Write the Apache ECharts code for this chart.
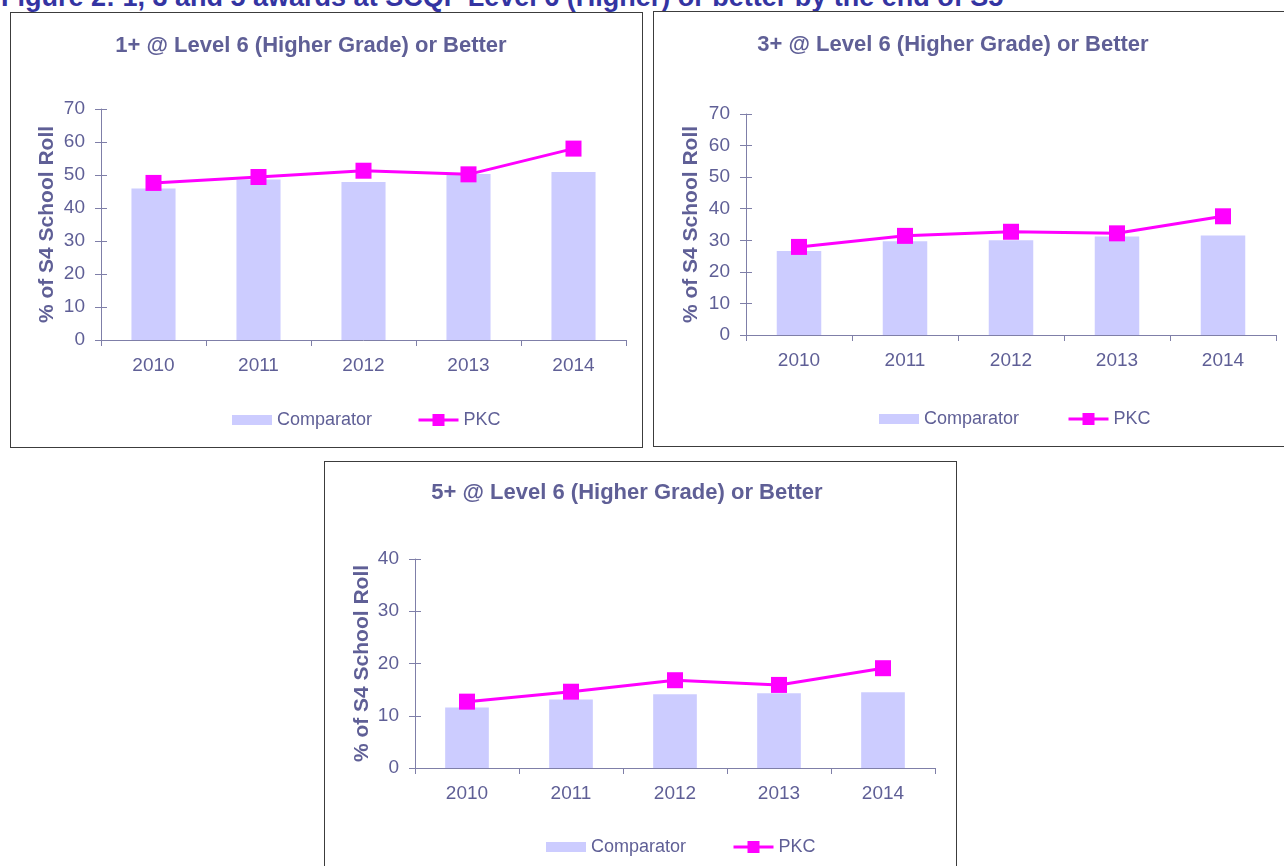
<!DOCTYPE html>
<html>
<head>
<meta charset="utf-8">
<script src="https://cdn.jsdelivr.net/npm/echarts@6/dist/echarts.min.js"></script>
<style>
  html, body { margin: 0; padding: 0; background: #fff; overflow: hidden; }
  body { width: 1284px; height: 866px; position: relative; font-family: Arial, "Liberation Sans", sans-serif; }
  #heading { position: absolute; left: 1px; top: -16px; line-height: 27px; font-weight: bold; font-size: 27px; color: #3434a2; white-space: nowrap; }
  .box { position: absolute; border: 1px solid #3c3c3c; background: #fff; }
  .box > div { position: absolute; left: 0; top: 0; width: 100%; height: 100%; }
</style>
</head>
<body>
<div id="heading">Figure 2: 1, 3 and 5 awards at SCQF Level 6 (Higher) or better by the end of S5</div>
<div class="box" style="left:10px;top:12px;width:631px;height:434px"><div id="c1"></div></div>
<div class="box" style="left:653px;top:11px;width:640px;height:434px"><div id="c2"></div></div>
<div class="box" style="left:324px;top:461px;width:631px;height:420px"><div id="c3"></div></div>
<script>
const years = ['2010', '2011', '2012', '2013', '2014'];

const comparator1 = [45.9, 48.6, 47.9, 50.3, 50.9];
const pkc1 = [47.6, 49.4, 51.3, 50.2, 58.0];

const comparator3 = [26.6, 29.7, 30.0, 31.2, 31.5];
const pkc3 = [27.9, 31.4, 32.7, 32.2, 37.6];

const comparator5 = [11.6, 13.1, 14.1, 14.3, 14.5];
const pkc5 = [12.7, 14.6, 16.8, 15.9, 19.1];

const textColor = '#5f5f96';
const axisColor = '#7f7fa8';

const makeChart = (id, cfg) => {
  let myChart = echarts.init(document.getElementById(id));
  let option = {
    animation: false,
    textStyle: { fontFamily: 'Arial, "Liberation Sans", sans-serif' },
    title: {
      text: cfg.title,
      left: cfg.titleX,
      top: cfg.titleTop,
      textAlign: 'center',
      textStyle: { fontSize: 22, fontWeight: 'bold', color: textColor }
    },
    legend: [
      {
        left: cfg.legendLeft[0],
        top: cfg.legendTop,
        itemWidth: 40,
        itemHeight: 10,
        textStyle: { fontSize: 18, color: textColor },
        data: [{ name: 'Comparator', icon: 'rect' }]
      },
      {
        left: cfg.legendLeft[1],
        top: cfg.legendTop,
        itemWidth: 40,
        itemHeight: 15,
        lineStyle: { width: 3 },
        textStyle: { fontSize: 18, color: textColor },
        data: ['PKC']
      }
    ],
    grid: cfg.grid,
    xAxis: {
      type: 'category',
      data: years,
      boundaryGap: true,
      axisLine: { lineStyle: { color: axisColor, width: 1 } },
      axisTick: { show: true, length: 6, lineStyle: { color: axisColor } },
      axisLabel: { fontSize: 19, color: textColor, margin: 16 }
    },
    yAxis: [
      {
        type: 'value',
        min: 0,
        max: cfg.max,
        interval: 10,
        name: '% of S4 School Roll',
        nameLocation: 'middle',
        nameGap: cfg.nameGap,
        nameMoveOverlap: false,
        nameTextStyle: { fontSize: 21, fontWeight: 'bold', color: textColor },
        axisLine: { show: true, lineStyle: { color: axisColor, width: 1 } },
        axisTick: { show: true, length: 6, lineStyle: { color: axisColor } },
        axisLabel: { fontSize: 19, color: textColor, margin: 16 },
        splitLine: { show: false }
      },
      {
        // inner half of the crossing ticks
        type: 'value',
        position: 'left',
        min: 0,
        max: cfg.max,
        interval: 10,
        axisLine: { show: false },
        axisTick: { show: true, inside: true, length: 6, lineStyle: { color: axisColor } },
        axisLabel: { show: false },
        splitLine: { show: false }
      }
    ],
    series: [
      {
        name: 'Comparator',
        type: 'bar',
        barWidth: '42%',
        itemStyle: { color: '#ccccff' },
        data: cfg.bars
      },
      {
        name: 'PKC',
        type: 'line',
        symbol: 'rect',
        symbolSize: 16,
        lineStyle: { color: '#ff00ff', width: 3 },
        itemStyle: { color: '#ff00ff' },
        data: cfg.line
      }
    ]
  };
  myChart.setOption(option);
};

makeChart('c1', {
  title: '1+ @ Level 6 (Higher Grade) or Better',
  titleX: 295, titleTop: 17,
  legendLeft: [216, 401], legendTop: 393,
  grid: { left: 90, top: 96, width: 525, height: 231 },
  max: 70, nameGap: 43,
  bars: comparator1, line: pkc1
});

makeChart('c2', {
  title: '3+ @ Level 6 (Higher Grade) or Better',
  titleX: 294, titleTop: 17,
  legendLeft: [220, 408], legendTop: 393,
  grid: { left: 92, top: 102, width: 530, height: 221 },
  max: 70, nameGap: 44,
  bars: comparator3, line: pkc3
});

makeChart('c3', {
  title: '5+ @ Level 6 (Higher Grade) or Better',
  titleX: 297, titleTop: 15,
  legendLeft: [216, 402], legendTop: 371,
  grid: { left: 90, top: 97, width: 520, height: 209 },
  max: 40, nameGap: 42,
  bars: comparator5, line: pkc5
});
</script>
</body>
</html>
